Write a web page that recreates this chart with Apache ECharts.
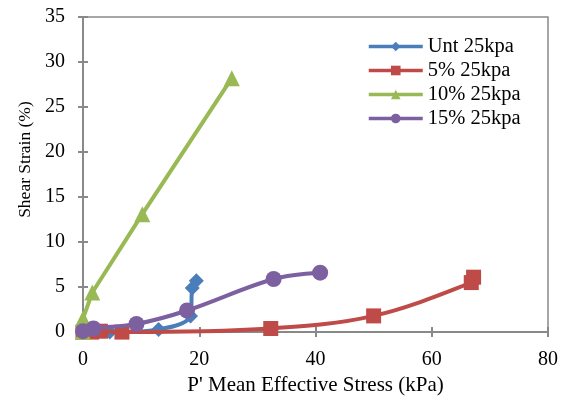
<!DOCTYPE html>
<html>
<head>
<meta charset="utf-8">
<script src="https://cdn.jsdelivr.net/npm/echarts@6/dist/echarts.min.js"></script>
<style>
html,body{margin:0;padding:0;background:#fff;}
#chart{width:564px;height:401px;}
</style>
</head>
<body>
<div id="chart"></div>
<script>
var seriesNames = ['Unt 25kpa', '5% 25kpa', '10% 25kpa', '15% 25kpa'];
var untX = [0, 4.6, 13, 18.5, 18.8, 19.5];
var untY = [0, 0, 0.3, 1.8, 4.9, 5.7];
var p5X = [0, 1.5, 3, 6.7, 32.3, 50, 66.8, 67.2];
var p5Y = [0, 0, 0.1, 0, 0.4, 1.8, 5.5, 6.1];
var p10X = [0, 0, 1.6, 10.2, 25.6];
var p10Y = [0, 1.5, 4.4, 13.1, 28.2];
var p15X = [0, 1.8, 9.2, 17.9, 32.8, 40.8];
var p15Y = [0.1, 0.4, 0.9, 2.4, 5.9, 6.6];
var xTicks = [0, 20, 40, 60, 80];
var yTicks = [0, 5, 10, 15, 20, 25, 30, 35];

function pairs(xs, ys) { return xs.map(function (x, i) { return [x, ys[i]]; }); }

var colors = ['#4A7EBB', '#BE4B48', '#98B954', '#7D60A0'];
var symbols = ['diamond', 'rect', 'triangle', 'circle'];
var sizes = [15, 15, 16, 16];
var datas = [pairs(untX, untY), pairs(p5X, p5Y), pairs(p10X, p10Y), pairs(p15X, p15Y)];
var font = 'Liberation Serif';

var series = seriesNames.map(function (n, i) {
  return {
    name: n, type: 'line', data: datas[i], smooth: i === 2 ? false : 0.35,
    symbol: symbols[i], symbolSize: sizes[i], showAllSymbol: true,
    lineStyle: { color: colors[i], width: 4 },
    itemStyle: { color: colors[i] },
    z: 3 + i
  };
});

var chart = echarts.init(document.getElementById('chart'), null, { renderer: 'canvas' });
chart.setOption({
  animation: false,
  backgroundColor: '#fff',
  color: colors,
  grid: { left: 83, top: 17, right: 16, bottom: 67, show: true, borderColor: '#898989', borderWidth: 1.5, containLabel: false },
  legend: {
    data: seriesNames, orient: 'vertical', left: 362, top: 31,
    itemWidth: 54, itemHeight: 12, itemGap: 3,
    lineStyle: { width: 3.5 },
    textStyle: { fontFamily: font, fontSize: 20.5, color: '#000' }
  },
  xAxis: [{
    type: 'value', min: xTicks[0], max: xTicks[xTicks.length - 1], interval: 20,
    name: "P' Mean Effective Stress (kPa)", nameLocation: 'middle', nameGap: 41,
    nameTextStyle: { fontFamily: font, fontSize: 21, color: '#000' },
    axisLine: { show: true, lineStyle: { color: '#898989', width: 2 } },
    axisTick: { show: true, inside: false, length: 5, lineStyle: { color: '#898989', width: 2 } },
    axisLabel: { fontFamily: font, fontSize: 20, color: '#000', margin: 18 },
    splitLine: { show: false }
  }, {
    type: 'value', position: 'bottom', min: xTicks[0], max: xTicks[xTicks.length - 1], interval: 20,
    axisLine: { show: false },
    axisTick: { show: true, inside: true, length: 5, lineStyle: { color: '#898989', width: 2 } },
    axisLabel: { show: false }, splitLine: { show: false }
  }],
  yAxis: [{
    type: 'value', min: yTicks[0], max: yTicks[yTicks.length - 1], interval: 5,
    name: 'Shear Strain (%)', nameLocation: 'middle', nameGap: 49,
    nameTextStyle: { fontFamily: font, fontSize: 17.5, color: '#000', padding: [0, 0, 0, 30] },
    axisLine: { show: true, lineStyle: { color: '#898989', width: 2 } },
    axisTick: { show: true, inside: false, length: 5, lineStyle: { color: '#898989', width: 2 } },
    axisLabel: { fontFamily: font, fontSize: 20, color: '#000', margin: 18 },
    splitLine: { show: false }
  }, {
    type: 'value', position: 'left', min: yTicks[0], max: yTicks[yTicks.length - 1], interval: 5,
    axisLine: { show: false },
    axisTick: { show: true, inside: true, length: 5, lineStyle: { color: '#898989', width: 2 } },
    axisLabel: { show: false }, splitLine: { show: false }
  }],
  series: series
});
</script>
</body>
</html>
